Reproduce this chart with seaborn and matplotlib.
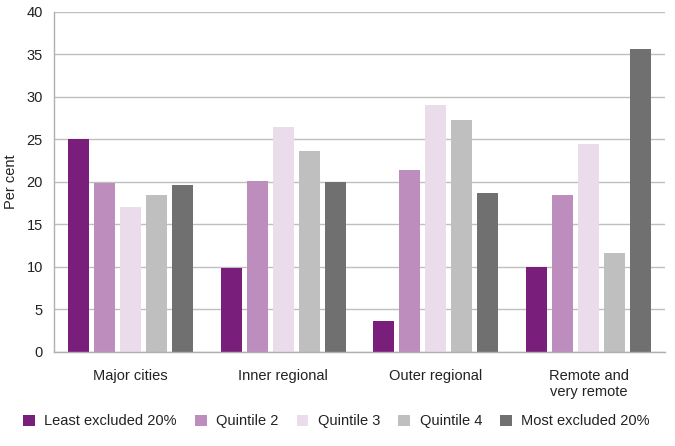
import matplotlib
matplotlib.use("Agg")
import matplotlib.pyplot as plt
import seaborn as sns
import pandas as pd
from matplotlib.ticker import FixedLocator

categories = ["Major cities", "Inner regional", "Outer regional", "Remote and\nvery remote"]
series = ["Least excluded 20%", "Quintile 2", "Quintile 3", "Quintile 4", "Most excluded 20%"]
least_excluded = [25.0, 9.9, 3.7, 10.0]
quintile_2 = [19.9, 20.1, 21.4, 18.4]
quintile_3 = [17.1, 26.4, 29.0, 24.4]
quintile_4 = [18.5, 23.6, 27.3, 11.6]
most_excluded = [19.6, 20.0, 18.7, 35.6]
colors = ["#7A1E7B", "#BC8DBD", "#EADCEB", "#BFBFBF", "#717070"]

values = [least_excluded, quintile_2, quintile_3, quintile_4, most_excluded]
rows = []
for s, vals in zip(series, values):
    for c, v in zip(categories, vals):
        rows.append({"Region": c, "Group": s, "Value": v})
df = pd.DataFrame(rows)

sns.set_style("white")
plt.rcParams["font.family"] = ["Liberation Sans", "DejaVu Sans"]

fig = plt.figure(figsize=(6.75, 4.46), dpi=100)
ax = fig.add_axes([0.080, 0.2108, 0.9052, 0.763])

sns.barplot(data=df, x="Region", y="Value", hue="Group", order=categories,
            hue_order=series, palette=colors, width=0.85, gap=0.19,
            saturation=1, linewidth=0, errorbar=None, ax=ax)

ax.set_ylim(0, 40)
ax.set_xlim(-0.5, 3.5)
ax.set_yticks(range(0, 41, 5))
ax.yaxis.grid(True, color="#BFBFBF", linewidth=1)
ax.set_axisbelow(True)
for side in ["top", "right"]:
    ax.spines[side].set_visible(False)
for side in ["left", "bottom"]:
    ax.spines[side].set_color("#AFAFAF")
    ax.spines[side].set_linewidth(1)

ax.tick_params(axis="y", length=0, labelsize=10.5, colors="#222222", pad=8)
ax.tick_params(axis="x", which="major", length=0, labelsize=10.5, colors="#222222", pad=12)
ax.xaxis.set_minor_locator(FixedLocator([-0.5, 0.5, 1.5, 2.5, 3.5]))
ax.tick_params(axis="x", which="minor", direction="in", length=6, width=1, color="#AFAFAF")

ax.set_xlabel("")
ax.set_ylabel("Per cent", fontsize=10.5, color="#222222", labelpad=6)

ax.legend_.remove()
handles, labels = ax.get_legend_handles_labels()
fig.legend(handles, labels, loc="center", bbox_to_anchor=(0.4985, 0.055), ncol=5,
           frameon=False, fontsize=10.5, handlelength=0.8, handleheight=0.8,
           handletextpad=0.65, columnspacing=1.25, labelcolor="#222222")

fig.savefig("out.png", dpi=100)
